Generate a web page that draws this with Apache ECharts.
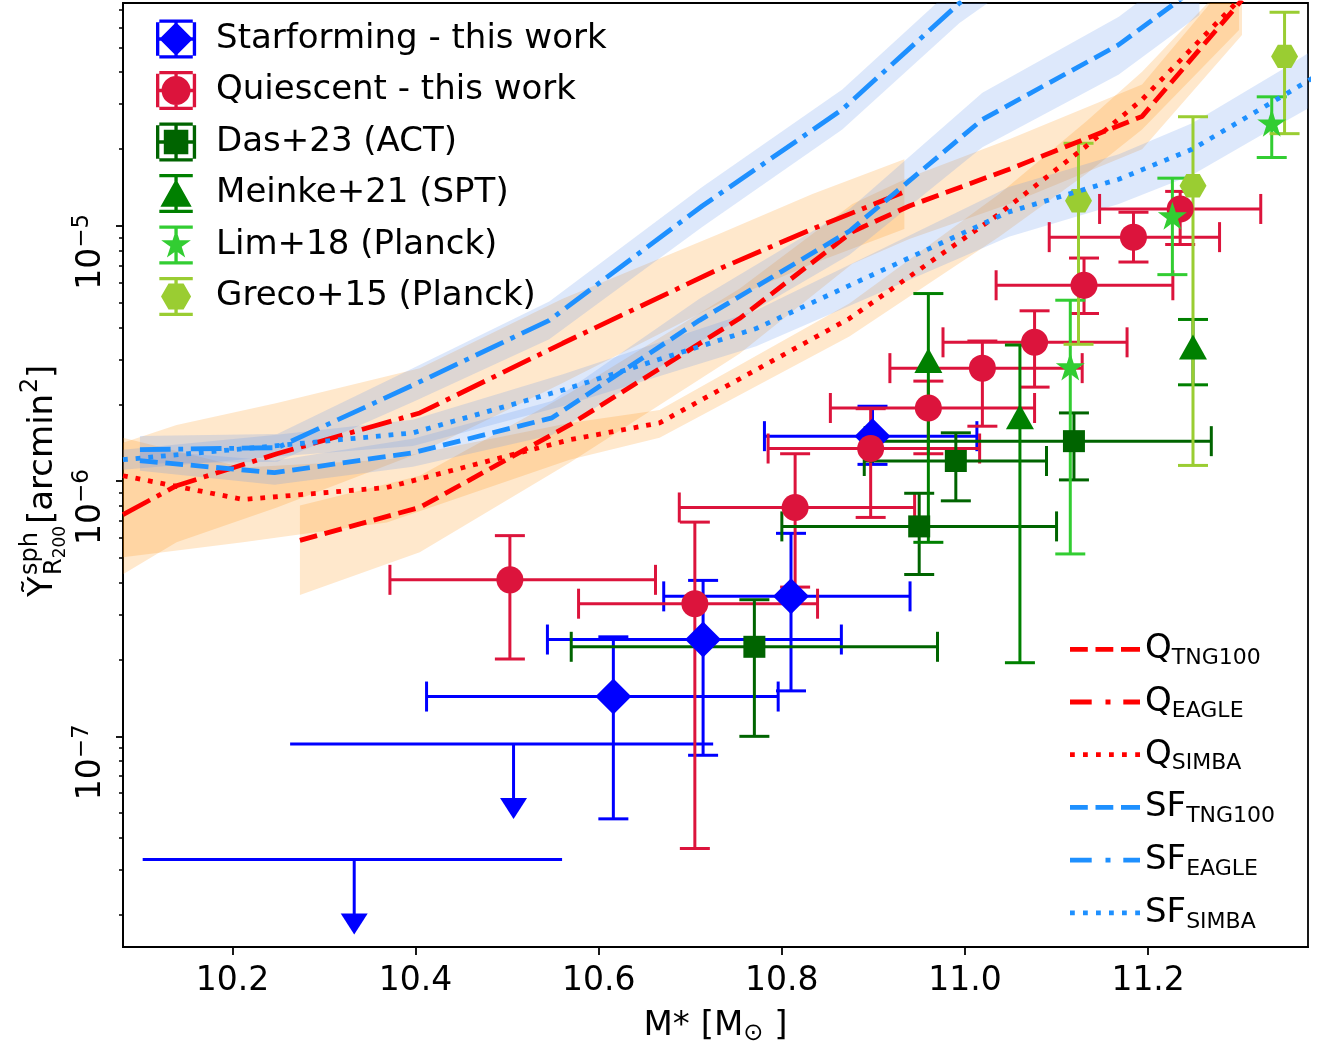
<!DOCTYPE html>
<html><head><meta charset="utf-8">
<script src="https://cdn.jsdelivr.net/npm/echarts@6/dist/echarts.min.js"></script>
<style>html,body{margin:0;padding:0;background:#fff}#c{width:1330px;height:1051px}</style>
</head><body><div id="c"></div>
<script>
// ---------------- DATA ----------------
// Starforming - this work
const sfMass   = [10.616, 10.714, 10.810, 10.899];
const sfY      = [1.432e-7, 2.395e-7, 3.535e-7, 1.500e-6];
const sfMassLo = [10.412, 10.544, 10.671, 10.781];
const sfMassHi = [10.796, 10.865, 10.940, 11.013];
const sfYLo    = [4.75e-8, 8.43e-8, 1.507e-7, 1.163e-6];
const sfYHi    = [2.454e-7, 4.083e-7, 6.243e-7, 1.965e-6];
// Starforming upper limits
const sfUlMass   = [10.507, 10.333];
const sfUlY      = [9.33e-8, 3.29e-8];
const sfUlMassLo = [10.263, 10.102];
const sfUlMassHi = [10.725, 10.560];
// Quiescent - this work
const qMass   = [10.503, 10.705, 10.8145, 10.897, 10.960, 11.019, 11.076, 11.130, 11.184, 11.235];
const qY      = [4.104e-7, 3.309e-7, 7.883e-7, 1.342e-6, 1.934e-6, 2.771e-6, 3.498e-6, 5.853e-6, 9.035e-6, 1.165e-5];
const qMassLo = [10.372, 10.578, 10.688, 10.785, 10.853, 10.918, 10.976, 11.034, 11.092, 11.147];
const qMassHi = [10.662, 10.839, 10.945, 11.016, 11.076, 11.128, 11.177, 11.227, 11.278, 11.323];
const qYLo    = [2.009e-7, 3.636e-8, 3.844e-7, 7.206e-7, 1.280e-6, 1.641e-6, 2.335e-6, 4.537e-6, 7.218e-6, 8.456e-6];
const qYHi    = [6.115e-7, 6.908e-7, 1.280e-6, 1.922e-6, 2.465e-6, 3.539e-6, 4.648e-6, 7.482e-6, 1.131e-5, 1.365e-5];
// Das+23 (ACT)
const dasMass   = [10.770, 10.950, 10.990, 11.119];
const dasY      = [2.243e-7, 6.646e-7, 1.199e-6, 1.434e-6];
const dasMassLo = [10.570, 10.800, 10.890, 10.891];
const dasMassHi = [10.970, 11.100, 11.089, 11.269];
const dasYLo    = [1.0e-7, 4.307e-7, 8.37e-7, 1.011e-6];
const dasYHi    = [3.43e-7, 8.961e-7, 1.546e-6, 1.850e-6];
// Meinke+21 (SPT)
const meinkeMass = [10.960, 11.060, 11.249];
const meinkeY    = [2.968e-6, 1.789e-6, 3.353e-6];
const meinkeYLo  = [5.757e-7, 1.943e-7, 2.384e-6];
const meinkeYHi  = [5.431e-6, 3.414e-6, 4.299e-6];
// Lim+18 (Planck)
const limMass = [11.115, 11.2265, 11.335];
const limY    = [2.812e-6, 1.097e-5, 2.537e-5];
const limYLo  = [5.184e-7, 6.442e-6, 1.853e-5];
const limYHi  = [5.114e-6, 1.538e-5, 3.204e-5];
// Greco+15 (Planck)
const grecoMass = [11.124, 11.249, 11.349];
const grecoY    = [1.255e-5, 1.436e-5, 4.613e-5];
const grecoYLo  = [3.436e-6, 1.152e-6, 2.298e-5];
const grecoYHi  = [2.107e-5, 2.677e-5, 6.871e-5];

// Simulation curves (log10 of Y) with 16-84 bands
const sfEagleMass  = [10.099, 10.249, 10.397, 10.546, 10.713, 10.866, 10.994, 11.048];
const sfEagleLogY  = [-5.877, -5.869, -5.624, -5.370, -4.922, -4.544, -4.127, -3.979];
const sfEagleLogLo = [-5.932, -5.924, -5.690, -5.444, -5.004, -4.622, -4.205, -4.068];
const sfEagleLogHi = [-5.823, -5.815, -5.558, -5.296, -4.848, -4.466, -4.045, -3.889];

const sfTngMass  = [10.099, 10.246, 10.397, 10.549, 10.710, 10.874, 11.019, 11.168, 11.256];
const sfTngLogY  = [-5.920, -5.967, -5.889, -5.752, -5.370, -5.020, -4.583, -4.290, -4.057];
const sfTngLogLo = [-5.959, -6.014, -5.944, -5.819, -5.456, -5.113, -4.692, -4.407, -4.174];
const sfTngLogHi = [-5.877, -5.920, -5.834, -5.686, -5.285, -4.934, -4.478, -4.181, -3.940];

const sfSimbaMass  = [10.0805, 10.246, 10.397, 10.561, 10.772, 11.048, 11.168, 11.248, 11.346, 11.386];
const sfSimbaLogY  = [-5.916, -5.862, -5.811, -5.643, -5.402, -4.945, -4.817, -4.700, -4.493, -4.407];
const sfSimbaLogLo = [-5.955, -5.905, -5.862, -5.706, -5.472, -5.043, -4.914, -4.801, -4.598, -4.517];
const sfSimbaLogHi = [-5.877, -5.819, -5.760, -5.581, -5.331, -4.848, -4.719, -4.598, -4.388, -4.298];

const qEagleMass  = [10.0805, 10.139, 10.2486, 10.4046, 10.5606, 10.7319, 10.8334, 10.9338];
const qEagleLogY  = [-6.131, -6.018, -5.893, -5.733, -5.460, -5.168, -5.012, -4.867];
const qEagleLogLo = [-6.365, -6.240, -6.103, -5.889, -5.616, -5.304, -5.148, -5.012];
const qEagleLogHi = [-5.850, -5.780, -5.694, -5.558, -5.285, -5.031, -4.875, -4.739];

const qTngMass  = [10.2737, 10.4046, 10.5683, 10.7537, 10.877, 10.9392, 11.0483, 11.1934, 11.3025];
const qTngLogY  = [-6.232, -6.103, -5.780, -5.363, -5.023, -4.922, -4.778, -4.571, -4.115];
const qTngLogLo = [-6.446, -6.279, -5.928, -5.501, -5.148, -5.051, -4.914, -4.700, -4.252];
const qTngLogHi = [-6.096, -5.979, -5.655, -5.246, -4.914, -4.809, -4.661, -4.446, -3.979];

const qSimbaMass  = [10.0805, 10.2115, 10.3686, 10.5683, 10.6665, 10.8737, 11.0374, 11.1323, 11.1934, 11.2993];
const qSimbaLogY  = [-5.979, -6.072, -6.025, -5.838, -5.772, -5.363, -4.953, -4.688, -4.505, -4.115];
const qSimbaLogLo = [-6.298, -6.240, -6.162, -5.916, -5.830, -5.433, -5.043, -4.797, -4.622, -4.232];
const qSimbaLogHi = [-5.830, -5.947, -5.916, -5.772, -5.721, -5.304, -4.875, -4.591, -4.396, -3.998];

// Axis ticks
const xTicks = [10.2, 10.4, 10.6, 10.8, 11.0, 11.2];
const yDecades = [-7, -6, -5];

// ---------------- CHART ----------------
const FONT = 'DejaVu Sans';
const xMin = 10.0805, xMax = 11.3746, yMin = -7.8254, yMax = -4.1267;
const L = Math.log10;
const minorTicks = [];
for (let n = -8; n <= -4; n++) for (let k = 2; k <= 9; k++) {
  const v = n + L(k); if (v > yMin && v < yMax) minorTicks.push(v);
}

function errData(m, y, mlo, mhi, ylo, yhi) {
  return m.map((v, i) => [v, L(y[i]), mlo ? mlo[i] : v, mhi ? mhi[i] : v, L(ylo[i]), L(yhi[i])]);
}
function renderErr(params, api) {
  const x = api.value(0), y = api.value(1), xl = api.value(2), xh = api.value(3),
        yl = api.value(4), yh = api.value(5);
  const color = api.visual('color');
  const st = {stroke: color, lineWidth: 3, fill: null};
  const ch = [];
  const seg = (a, b) => ch.push({type: 'line', shape: {x1: a[0], y1: a[1], x2: b[0], y2: b[1]}, style: st});
  const cap = 15;
  if (xh > xl) {
    const a = api.coord([xl, y]), b = api.coord([xh, y]);
    seg(a, b);
    seg([a[0], a[1] - cap], [a[0], a[1] + cap]);
    seg([b[0], b[1] - cap], [b[0], b[1] + cap]);
  }
  const c = api.coord([x, yl]), d = api.coord([x, yh]);
  seg(c, d);
  seg([c[0] - cap, c[1]], [c[0] + cap, c[1]]);
  seg([d[0] - cap, d[1]], [d[0] + cap, d[1]]);
  return {type: 'group', children: ch};
}
function errSeries(name, color, data) {
  return {type: 'custom', name: name + ' (err)', coordinateSystem: 'cartesian2d', clip: true, silent: true,
    itemStyle: {color}, encode: {x: [0, 2, 3], y: [1, 4, 5]}, data, renderItem: renderErr};
}
function markerSeries(name, color, symbol, size, m, y) {
  return {type: 'scatter', name, symbol, symbolSize: size, silent: true,
    itemStyle: {color, opacity: 1}, data: m.map((v, i) => [v, L(y[i])])};
}
function renderUl(params, api) {
  const x = api.value(0), y = api.value(1), xl = api.value(2), xh = api.value(3);
  const color = api.visual('color');
  const a = api.coord([xl, y]), b = api.coord([xh, y]), p = api.coord([x, y]);
  const st = {stroke: color, lineWidth: 3, fill: null};
  return {type: 'group', children: [
    {type: 'line', shape: {x1: a[0], y1: a[1], x2: b[0], y2: b[1]}, style: st},
    {type: 'line', shape: {x1: p[0], y1: p[1], x2: p[0], y2: p[1] + 56}, style: st},
    {type: 'polygon', shape: {points: [[p[0] - 13.5, p[1] + 54], [p[0] + 13.5, p[1] + 54], [p[0], p[1] + 75]]},
      style: {fill: color}}
  ]};
}
function bandSeries(name, color, m, lo, hi) {
  return {type: 'custom', name: name + ' (band)', coordinateSystem: 'cartesian2d', clip: true, silent: true,
    data: [[m[0], lo[0]]],
    renderItem: (params, api) => {
      const pts = [];
      for (let i = 0; i < m.length; i++) pts.push(api.coord([m[i], hi[i]]));
      for (let i = m.length - 1; i >= 0; i--) pts.push(api.coord([m[i], lo[i]]));
      return {type: 'polygon', shape: {points: pts}, style: {fill: color}};
    }};
}
const LW = 4.8;
const DASH = [17.8, 7.7], DASHDOT = [30.7, 7.7, 4.8, 7.7], DOT = [4.8, 7.9];
function curveSeries(name, color, type, m, ly) {
  return {type: 'line', name, symbol: 'none', silent: true, clip: true,
    itemStyle: {color}, lineStyle: {color, width: LW, type, cap: 'butt'},
    data: m.map((v, i) => [v, ly[i]])};
}

const QC = 'rgba(255,140,0,0.2)', SC = 'rgba(100,149,237,0.22)';
const RED = '#ff0000', DB = '#1e90ff';
const BLUE = '#0000ff', CRIM = '#dc143c', DG = '#006400', GR = '#008000', LG = '#32cd32', YG = '#9acd32';

const STAR = 'path://M0,-1L0.2245,-0.309L0.951,-0.309L0.363,0.118L0.588,0.809L0,0.382L-0.588,0.809L-0.363,0.118L-0.951,-0.309L-0.2245,-0.309Z';
const HEX = 'path://M-1,0L-0.5,-0.866L0.5,-0.866L1,0L0.5,0.866L-0.5,0.866Z';

const EB_XY = 'M-18,-1.5L18,-1.5L18,1.5L-18,1.5Z M-1.5,-17.5L1.5,-17.5L1.5,17.5L-1.5,17.5Z M-15,-17.5L15,-17.5L15,-14.5L-15,-14.5Z M-15,14.5L15,14.5L15,17.5L-15,17.5Z M-18,-15L-15,-15L-15,15L-18,15Z M15,-15L18,-15L18,15L15,15Z ';
const EB_Y = 'M-1.5,-17.5L1.5,-17.5L1.5,17.5L-1.5,17.5Z M-15,-17.5L15,-17.5L15,-14.5L-15,-14.5Z M-15,14.5L15,14.5L15,17.5L-15,17.5Z ';
const ICON = {
  sf: 'path://' + EB_XY + 'M0,-15L15,0L0,15L-15,0Z',
  q: 'path://' + EB_XY + 'M-13,0A13,13 0 1,1 13,0A13,13 0 1,1 -13,0Z',
  das: 'path://' + EB_XY + 'M-11,-11L11,-11L11,11L-11,11Z',
  meinke: 'path://' + EB_Y + 'M0,-13L14,12L-14,12Z',
  lim: 'path://' + EB_Y + 'M0,-14L3.14,-4.33L13.31,-4.33L5.08,1.65L8.23,11.33L0,5.35L-8.23,11.33L-5.08,1.65L-13.31,-4.33L-3.14,-4.33Z',
  greco: 'path://' + EB_Y + 'M-13.5,0L-6.75,-11.7L6.75,-11.7L13.5,0L6.75,11.7L-6.75,11.7Z'
};
// legend line icons (70 x 4.8)
const segs = xs => 'path://' + xs.map(s => `M${s[0]},0L${s[1]},0L${s[1]},4.8L${s[0]},4.8Z`).join(' ');
const LICON = {
  dash: segs([[0, 17.8], [25.5, 43.3], [51, 70]]),
  dashdot: segs([[0, 21.7], [35.5, 40.5], [53.3, 70]]),
  dot: segs([[0, 4.8], [13, 17.8], [26, 30.8], [39, 43.8], [52, 56.8], [65.2, 70]])
};

const series = [
  bandSeries('Q_TNG100', QC, qTngMass, qTngLogLo, qTngLogHi),
  bandSeries('Q_EAGLE', QC, qEagleMass, qEagleLogLo, qEagleLogHi),
  bandSeries('Q_SIMBA', QC, qSimbaMass, qSimbaLogLo, qSimbaLogHi),
  bandSeries('SF_TNG100', SC, sfTngMass, sfTngLogLo, sfTngLogHi),
  bandSeries('SF_EAGLE', SC, sfEagleMass, sfEagleLogLo, sfEagleLogHi),
  bandSeries('SF_SIMBA', SC, sfSimbaMass, sfSimbaLogLo, sfSimbaLogHi),
  curveSeries('Q_TNG100', RED, DASH, qTngMass, qTngLogY),
  curveSeries('Q_EAGLE', RED, DASHDOT, qEagleMass, qEagleLogY),
  curveSeries('Q_SIMBA', RED, DOT, qSimbaMass, qSimbaLogY),
  curveSeries('SF_TNG100', DB, DASH, sfTngMass, sfTngLogY),
  curveSeries('SF_EAGLE', DB, DASHDOT, sfEagleMass, sfEagleLogY),
  curveSeries('SF_SIMBA', DB, DOT, sfSimbaMass, sfSimbaLogY),
  errSeries('sf', BLUE, errData(sfMass, sfY, sfMassLo, sfMassHi, sfYLo, sfYHi)),
  markerSeries('Starforming - this work', BLUE, 'diamond', [36, 36], sfMass, sfY),
  {type: 'custom', name: 'sf upper limits', coordinateSystem: 'cartesian2d', clip: true, silent: true,
    itemStyle: {color: BLUE}, encode: {x: [0, 2, 3], y: 1},
    data: sfUlMass.map((v, i) => [v, L(sfUlY[i]), sfUlMassLo[i], sfUlMassHi[i]]), renderItem: renderUl},
  errSeries('q', CRIM, errData(qMass, qY, qMassLo, qMassHi, qYLo, qYHi)),
  markerSeries('Quiescent - this work', CRIM, 'circle', 27, qMass, qY),
  errSeries('das', DG, errData(dasMass, dasY, dasMassLo, dasMassHi, dasYLo, dasYHi)),
  markerSeries('Das+23 (ACT)', DG, 'rect', 22, dasMass, dasY),
  errSeries('meinke', GR, errData(meinkeMass, meinkeY, null, null, meinkeYLo, meinkeYHi)),
  markerSeries('Meinke+21 (SPT)', GR, 'triangle', [28, 25], meinkeMass, meinkeY),
  errSeries('lim', LG, errData(limMass, limY, null, null, limYLo, limYHi)),
  markerSeries('Lim+18 (Planck)', LG, STAR, [29, 28], limMass, limY),
  errSeries('greco', YG, errData(grecoMass, grecoY, null, null, grecoYLo, grecoYHi)),
  markerSeries('Greco+15 (Planck)', YG, HEX, [27, 23.4], grecoMass, grecoY)
];

const txt = {fontFamily: FONT, color: '#000'};
const option = {
  backgroundColor: '#fff',
  animation: false,
  grid: {left: 123, top: 3, width: 1185, height: 948.7, show: true, borderColor: '#000', borderWidth: 1.8},
  xAxis: {
    type: 'value', min: xMin, max: xMax,
    axisLine: {show: true, lineStyle: {color: '#000', width: 1.8}},
    axisTick: {show: true, customValues: xTicks, length: 8, lineStyle: {color: '#000', width: 1.8}},
    axisLabel: {customValues: xTicks, formatter: v => v.toFixed(1), fontSize: 33, fontFamily: FONT, color: '#000', margin: 18},
    splitLine: {show: false},
    name: '{a|M* [M}{b|⊙}{a| ]}', nameLocation: 'middle', nameGap: 59,
    nameTextStyle: {rich: {
      a: Object.assign({fontSize: 34, lineHeight: 40}, txt),
      b: Object.assign({fontSize: 24, lineHeight: 24, verticalAlign: 'bottom'}, txt)
    }}
  },
  yAxis: [{
    type: 'value', min: yMin, max: yMax, position: 'left',
    axisLine: {show: true, lineStyle: {color: '#000', width: 1.8}},
    axisTick: {show: true, customValues: yDecades, length: 7, lineStyle: {color: '#000', width: 1.8}},
    axisLabel: {customValues: yDecades, rotate: 90, align: 'center', verticalAlign: 'bottom',
      padding: [0, 52, 0, 0], margin: 12,
      formatter: v => '{b|10}{s|\u2212' + (-Math.round(v)) + '}',
      rich: {
        b: Object.assign({fontSize: 33, lineHeight: 40}, txt),
        s: Object.assign({fontSize: 23, lineHeight: 23, verticalAlign: 'top'}, txt)
      }},
    splitLine: {show: false}
  }, {
    type: 'value', min: yMin, max: yMax, position: 'left',
    axisLine: {show: false}, axisLabel: {show: false}, splitLine: {show: false},
    axisTick: {show: true, customValues: minorTicks, length: 4, lineStyle: {color: '#000', width: 1.5}}
  }],
  legend: [{
    orient: 'vertical', left: 156, top: 19, padding: 0, itemGap: 11.5, itemWidth: 70, itemHeight: 39,
    symbolKeepAspect: true, selectedMode: false,
    textStyle: {fontSize: 34, fontFamily: FONT, color: '#000', lineHeight: 40},
    data: [
      {name: 'Starforming - this work', icon: ICON.sf},
      {name: 'Quiescent - this work', icon: ICON.q},
      {name: 'Das+23 (ACT)', icon: ICON.das},
      {name: 'Meinke+21 (SPT)', icon: ICON.meinke},
      {name: 'Lim+18 (Planck)', icon: ICON.lim},
      {name: 'Greco+15 (Planck)', icon: ICON.greco}
    ]
  }, {
    orient: 'vertical', left: 1070, top: 629.3, padding: 0, itemGap: 12.7, itemWidth: 70, itemHeight: 5,
    selectedMode: false, symbolKeepAspect: true,
    formatter: name => { const p = name.split('_'); return '{m|' + p[0] + '}{s|' + p[1] + '}'; },
    textStyle: {fontSize: 34, fontFamily: FONT, color: '#000', lineHeight: 40, rich: {
      m: Object.assign({fontSize: 34, lineHeight: 40}, txt),
      s: Object.assign({fontSize: 22, lineHeight: 22, verticalAlign: 'bottom'}, txt)
    }},
    data: [
      {name: 'Q_TNG100', icon: LICON.dash},
      {name: 'Q_EAGLE', icon: LICON.dashdot},
      {name: 'Q_SIMBA', icon: LICON.dot},
      {name: 'SF_TNG100', icon: LICON.dash},
      {name: 'SF_EAGLE', icon: LICON.dashdot},
      {name: 'SF_SIMBA', icon: LICON.dot}
    ]
  }],
  graphic: [{
    type: 'group', x: 53, y: 597, rotation: Math.PI / 2, silent: true,
    children: [
      {type: 'text', x: 0, y: -10, style: {text: 'Ỹ', fontSize: 34, fontFamily: FONT, fill: '#000', verticalAlign: 'middle', align: 'left'}},
      {type: 'text', x: 22, y: -22, style: {text: 'sph', fontSize: 24, fontFamily: FONT, fill: '#000', verticalAlign: 'middle', align: 'left'}},
      {type: 'text', x: 22, y: 2, style: {text: 'R', fontSize: 24, fontFamily: FONT, fill: '#000', verticalAlign: 'middle', align: 'left'}},
      {type: 'text', x: 38.7, y: 8, style: {text: '200', fontSize: 17, fontFamily: FONT, fill: '#000', verticalAlign: 'middle', align: 'left'}},
      {type: 'text', x: 73, y: -10, style: {text: '[arcmin', fontSize: 34, fontFamily: FONT, fill: '#000', verticalAlign: 'middle', align: 'left'}},
      {type: 'text', x: 204, y: -22, style: {text: '2', fontSize: 24, fontFamily: FONT, fill: '#000', verticalAlign: 'middle', align: 'left'}},
      {type: 'text', x: 219, y: -10, style: {text: ']', fontSize: 34, fontFamily: FONT, fill: '#000', verticalAlign: 'middle', align: 'left'}}
    ]
  }],
  series
};
echarts.init(document.getElementById('c'), null, {renderer: 'canvas'}).setOption(option);
</script>
</body></html>
